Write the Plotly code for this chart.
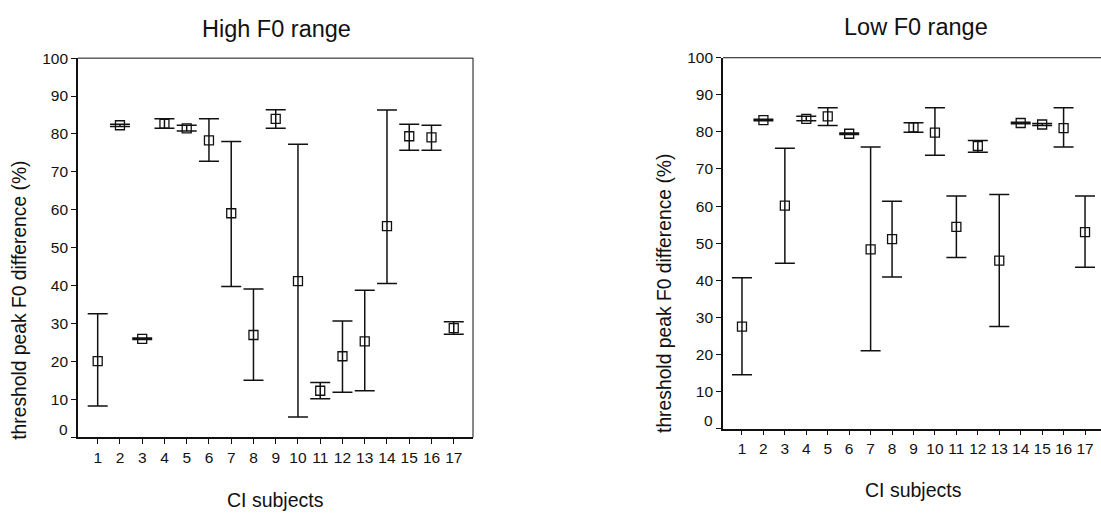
import plotly.graph_objects as go

# CI subject numbers
subjects = list(range(1, 18))

# High F0 range: mean threshold and confidence limits (%)
high_mean = [20.1, 82.3, 26.0, 82.7, 81.5, 78.3, 59.1, 27.0, 84.0, 41.2, 12.3, 21.4, 25.3, 55.7, 79.4, 79.1, 28.8]
high_upper = [32.6, 82.6, 26.2, 84.0, 82.3, 84.0, 78.0, 39.1, 86.4, 77.3, 14.5, 30.7, 38.8, 86.3, 82.6, 82.3, 30.5]
high_lower = [8.3, 82.0, 25.8, 81.5, 80.8, 72.8, 39.8, 15.1, 81.5, 5.4, 10.2, 11.9, 12.3, 40.6, 75.7, 75.7, 27.2]

# Low F0 range: mean threshold and confidence limits (%)
low_mean = [27.5, 83.2, 60.1, 83.5, 84.2, 79.5, 48.3, 51.1, 81.2, 79.8, 54.4, 76.2, 45.3, 82.4, 82.0, 81.0, 53.0]
low_upper = [40.7, 83.4, 75.6, 84.2, 86.5, 79.7, 75.9, 61.3, 82.5, 86.5, 62.7, 77.7, 63.1, 82.6, 82.3, 86.5, 62.7]
low_lower = [14.5, 83.0, 44.6, 83.0, 81.7, 79.3, 21.0, 40.9, 79.9, 73.7, 46.1, 74.5, 27.5, 82.2, 81.7, 75.9, 43.5]

y_ticks = list(range(0, 101, 10))
y_ticktext = [""] + [str(v) for v in y_ticks[1:]]

FONT = "Liberation Sans, Arial, Helvetica, sans-serif"
INK = "#111111"
TICK_SIZE = 15.5


def panel(mean, upper, lower, xa, ya):
    return go.Scatter(
        x=subjects,
        y=mean,
        mode="markers",
        xaxis=xa,
        yaxis=ya,
        marker=dict(symbol="square-open", size=9, color=INK, line=dict(width=1.3, color=INK)),
        error_y=dict(
            type="data",
            symmetric=False,
            array=[u - m for u, m in zip(upper, mean)],
            arrayminus=[m - l for m, l in zip(mean, lower)],
            color=INK,
            thickness=1.5,
            width=10,
        ),
        showlegend=False,
        hoverinfo="x+y",
    )


fig = go.Figure()
fig.add_trace(panel(high_mean, high_upper, high_lower, "x", "y"))
fig.add_trace(panel(low_mean, low_upper, low_lower, "x2", "y2"))

W, H = 1101, 518

xcommon = dict(
    tickmode="array",
    tickvals=subjects,
    ticks="outside",
    ticklen=5,
    tickwidth=1.2,
    tickcolor=INK,
    showline=True,
    linewidth=1.6,
    linecolor=INK,
    showgrid=False,
    zeroline=False,
    tickfont=dict(family=FONT, size=TICK_SIZE, color=INK),
)
ycommon = dict(
    range=[0, 100],
    tickmode="array",
    tickvals=y_ticks,
    ticktext=y_ticktext,
    ticks="outside",
    ticklen=5,
    tickwidth=1.2,
    tickcolor=INK,
    showline=True,
    linewidth=1.6,
    linecolor=INK,
    showgrid=False,
    zeroline=False,
    tickfont=dict(family=FONT, size=TICK_SIZE, color=INK),
)

fig.update_layout(
    width=W,
    height=H,
    margin=dict(l=0, r=0, t=0, b=0),
    paper_bgcolor="white",
    plot_bgcolor="white",
    font=dict(family=FONT, color=INK),
    xaxis=dict(domain=[78 / W, 473 / W], range=[0.115, 17.865], anchor="y", **xcommon),
    yaxis=dict(domain=[(H - 436) / H, (H - 50) / H], anchor="x", **ycommon),
    xaxis2=dict(domain=[723 / W, 1.0], range=[0.115, 17.745], anchor="y2", **xcommon),
    yaxis2=dict(domain=[(H - 427) / H, (H - 49.6) / H], anchor="x2", **ycommon),
)

# Thin frame lines on the top/right of each panel
frame = dict(color=INK, width=1)
fig.add_shape(type="line", xref="x domain", yref="y domain", x0=0, x1=1, y0=1, y1=1, line=frame)
fig.add_shape(type="line", xref="x domain", yref="y domain", x0=1, x1=1, y0=0, y1=1, line=frame)
fig.add_shape(type="line", xref="x2 domain", yref="y2 domain", x0=0, x1=1, y0=1, y1=1, line=frame)

# "0" labels sit slightly above the baseline
for xr, yr in (("x domain", "y"), ("x2 domain", "y2")):
    fig.add_annotation(
        text="0", xref=xr, yref=yr, x=0, y=0, xanchor="right", yanchor="middle",
        xshift=-8, yshift=8, showarrow=False, font=dict(family=FONT, size=TICK_SIZE, color=INK),
    )

# Titles and axis titles
texts = [
    ("High F0 range", 276, 20, 0, 23.5),
    ("Low F0 range", 916, 18, 0, 23.5),
    ("CI subjects", 275, 500, 0, 19.5),
    ("CI subjects", 913, 490, 0, 19.5),
    ("threshold peak F0 difference (%)", 20, 297, -90, 19.3),
    ("threshold peak F0 difference (%)", 665, 290, -90, 19.3),
]
for txt, px, py, ang, sz in texts:
    fig.add_annotation(
        text=txt, xref="paper", yref="paper", x=px / W, y=(H - py) / H,
        xanchor="center", yanchor="middle", textangle=ang, showarrow=False,
        font=dict(family=FONT, size=sz, color=INK),
    )

fig.write_html("out.html")
